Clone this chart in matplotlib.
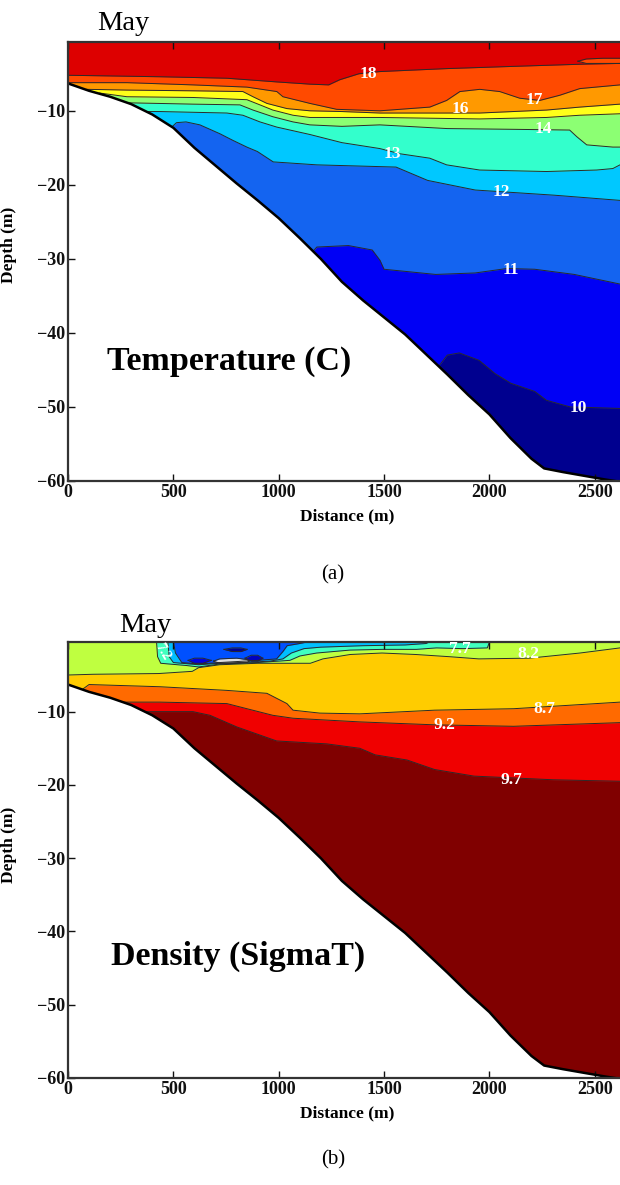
import numpy as np
import matplotlib.pyplot as plt

plt.rcParams['font.family'] = ['Liberation Serif', 'DejaVu Serif']

# bottom profile (distance m, depth m)
bot_d = [0, 100, 200, 300, 400, 500, 600, 700, 800, 900, 1000, 1100, 1200, 1300, 1400,
         1500, 1600, 1700, 1800, 1900, 2000, 2100, 2200, 2260, 2350, 2450, 2550, 2620]
bot_z = [-6.3, -7.3, -8.1, -9.1, -10.5, -12.3, -15.0, -17.4, -19.8, -22.1, -24.5, -27.2, -30.0, -33.1, -35.6,
         -37.9, -40.2, -42.9, -45.6, -48.4, -51.0, -54.2, -57.0, -58.3, -58.8, -59.3, -59.8, -60.1]

# temperature isotherms
t10_d = [1760, 1800, 1857, 1951, 2027, 2102, 2215, 2271, 2384, 2620]
t10_z = [-44.5, -43.0, -42.7, -43.7, -45.5, -46.8, -47.9, -49.1, -50.0, -50.2]
t11_d = [1162, 1181, 1331, 1444, 1481, 1500, 1745, 1933, 2083, 2215, 2403, 2620]
t11_z = [-29.0, -28.4, -28.2, -28.8, -30.2, -31.4, -32.1, -31.9, -31.3, -31.4, -32.1, -33.4]
t12_d = [492, 515, 560, 626, 721, 783, 849, 899, 974, 1181, 1557, 1707, 1933, 2309, 2620]
t12_z = [-12.2, -11.6, -11.5, -11.9, -13.1, -14.0, -14.9, -15.5, -16.9, -17.3, -17.6, -19.4, -20.7, -21.4, -22.1]
t13_d = [374, 436, 754, 830, 911, 991, 1148, 1300, 1480, 1575, 1717, 1797, 1954, 2271, 2509, 2586, 2620]
t13_z = [-10.1, -10.1, -10.3, -10.6, -11.5, -12.2, -13.2, -14.3, -15.1, -15.8, -16.4, -17.3, -18.0, -18.2, -18.0, -17.8, -17.3]
t14_d = [250, 593, 816, 878, 972, 1068, 1148, 1300, 1480, 1800, 2112, 2381, 2415, 2462, 2586, 2620]
t14_z = [-8.9, -9.1, -9.2, -9.9, -10.8, -11.5, -11.9, -12.1, -11.9, -12.4, -12.5, -12.6, -13.5, -14.6, -14.9, -14.9]
t15_d = [150, 280, 593, 849, 911, 972, 1068, 1148, 1480, 1954, 2271, 2429, 2620]
t15_z = [-7.6, -8.1, -8.2, -8.5, -9.2, -9.9, -10.6, -10.9, -10.9, -11.1, -10.9, -10.6, -10.4]
t16_d = [89, 280, 593, 830, 878, 944, 1039, 1148, 1300, 1480, 1954, 2271, 2429, 2620]
t16_z = [-7.1, -7.2, -7.3, -7.4, -8.1, -9.0, -9.7, -10.0, -10.1, -10.3, -10.3, -9.9, -9.5, -9.1]
t17_d = [0, 280, 593, 849, 991, 1020, 1148, 1275, 1480, 1717, 1797, 1860, 1954, 2049, 2144, 2239, 2334, 2429, 2620]
t17_z = [-6.2, -6.2, -6.5, -6.8, -7.4, -8.1, -9.0, -9.8, -10.0, -9.5, -8.6, -7.4, -7.1, -7.4, -8.3, -8.6, -7.9, -7.0, -6.5]
t18_d = [0, 436, 754, 991, 1148, 1237, 1290, 1380, 1480, 1797, 2112, 2443, 2620]
t18_z = [-5.2, -5.4, -5.6, -6.1, -6.4, -6.5, -5.8, -5.0, -4.7, -4.3, -4.0, -3.7, -3.6]
# small tongue near the surface on the right
t18b_d = [2420, 2460, 2540, 2620]
t18b_up = [-3.3, -3.0, -2.9, -2.9]
t18b_lo = [-3.3, -3.6, -3.6, -3.6]

temp_levels = ['10', '11', '12', '13', '14', '15', '16', '17', '18']
temp_colors = ['#00008f', '#0000f5', '#1464f0', '#00c8ff', '#33ffcc', '#8cff73',
               '#ffff1a', '#ff9900', '#ff4a00', '#dd0000']
temp_lab_d = [2421, 2102, 2055, 1540, 2255, None, 1860, 2211, 1425]
temp_lab_z = [-50.2, -31.5, -20.9, -15.8, -12.4, None, -9.7, -8.6, -5.0]

# density (sigma-t) isopycnals
s97_d = [356, 593, 674, 802, 911, 990, 1228, 1385, 1458, 1609, 1740, 1927, 2303, 2620]
s97_z = [-10.0, -10.0, -10.5, -12.1, -13.2, -14.0, -14.4, -15.0, -15.9, -16.6, -17.9, -18.8, -19.3, -19.5]
s92_d = [262, 436, 593, 754, 849, 972, 1068, 1385, 1740, 2115, 2620]
s92_z = [-8.7, -8.7, -8.8, -8.9, -9.6, -10.5, -10.9, -11.4, -11.8, -12.0, -11.5]
s87_d = [71, 100, 436, 754, 944, 1039, 1068, 1195, 1385, 1740, 2115, 2396, 2620]
s87_z = [-6.9, -6.3, -6.6, -7.1, -7.5, -8.9, -9.8, -10.2, -10.3, -9.8, -9.6, -9.1, -8.7]
s82_d = [0, 120, 430, 590, 620, 720, 900, 1150, 1210, 1340, 1490, 1650, 1810, 1950, 2190, 2430, 2620]
s82_z = [-5.0, -4.9, -4.8, -4.5, -4.0, -3.6, -3.4, -3.4, -2.8, -2.2, -2.0, -2.2, -2.5, -2.8, -2.7, -2.0, -1.3]
s77_d = [420, 425, 440, 560, 620, 720, 900, 1053, 1101, 1180, 1338, 1494, 1654, 1749, 1875, 1990, 2002]
s77_z = [-0.4, -2.5, -3.4, -3.7, -3.9, -3.5, -3.3, -3.0, -2.4, -2.0, -1.6, -1.5, -1.5, -1.3, -1.4, -1.3, -0.4]
s72_d = [474, 480, 500, 620, 720, 900, 960, 1020, 1060, 1120, 1200, 1400, 1600, 1700, 1720]
s72_z = [-0.4, -2.5, -3.3, -3.6, -3.4, -3.2, -3.1, -2.8, -2.0, -1.4, -1.2, -1.0, -0.9, -0.7, -0.4]
s67_d = [500, 510, 540, 620, 720, 900, 990, 1020, 1040, 1100, 1150]
s67_z = [-0.4, -2.0, -3.3, -3.5, -3.3, -3.0, -2.8, -1.8, -1.0, -0.7, -0.4]
# closed low-density patches under the surface
p1_d = [570, 600, 640, 680]
p1_up = [-3.0, -2.7, -2.7, -3.0]
p1_lo = [-3.0, -3.4, -3.4, -3.0]
p2_d = [840, 870, 900, 925]
p2_up = [-2.7, -2.3, -2.3, -2.7]
p2_lo = [-2.7, -3.1, -3.1, -2.7]
p3_d = [740, 780, 820, 850]
p3_up = [-1.5, -1.3, -1.3, -1.5]
p3_lo = [-1.5, -1.8, -1.8, -1.5]
p4_d = [690, 720, 800, 850, 860]
p4_up = [-3.1, -2.8, -2.7, -2.9, -3.1]
p4_lo = [-3.1, -3.4, -3.4, -3.3, -3.1]

dens_colors = ['#800000', '#f00000', '#ff6a00', '#ffcc00', '#bfff40', '#40ffbf', '#00bfff', '#0050ff']
dens_labels = ['7.2', '7.7', '8.2', '8.7', '9.2', '9.7']
dens_lab_d = [450, 1860, 2185, 2263, 1787, 2105]
dens_lab_z = [-1.8, -1.5, -2.2, -9.6, -11.8, -19.3]

bd = np.array(bot_d, float)
bz = np.array(bot_z, float)
LC = '#2a2a2a'


def fill_above(ax, d, z, color, from_bottom=True):
    d = np.asarray(d, float)
    z = np.asarray(z, float)
    if from_bottom:
        m = bd < d[0]
        d = np.concatenate([bd[m], d])
        z = np.concatenate([bz[m], z])
    ax.fill_between(d, z, 0, color=color, lw=0, zorder=1)


def style(ax, ytop):
    ax.set_xlim(0, 2620)
    ax.set_ylim(-60, ytop)
    ax.set_xticks([0, 500, 1000, 1500, 2000, 2500])
    ax.set_yticks([-60, -50, -40, -30, -20, -10])
    ax.tick_params(direction='in', top=True, right=False, length=5, width=1,
                   labelsize=13, pad=2, colors='#111111')
    for lab in ax.get_xticklabels() + ax.get_yticklabels():
        lab.set_fontweight('bold')
    for s in ['left', 'bottom', 'top']:
        ax.spines[s].set_linewidth(1.6)
        ax.spines[s].set_color('#333333')
        ax.spines[s].set_zorder(4)
    ax.spines['right'].set_visible(False)
    ax.set_xlabel('Distance (m)', fontsize=12.5, fontweight='bold')
    ax.set_ylabel('Depth (m)', fontsize=12.5, fontweight='bold')
    ax.xaxis.set_label_coords(0.505, -0.062)


def finish_bottom(ax):
    ax.fill_between(bd, bz, -62, color='white', lw=0, zorder=1.5)
    ax.plot(bd, bz, color='black', lw=1.8, zorder=2.2)


fig = plt.figure(figsize=(6.2, 11.85), dpi=100)

# ---- (a) temperature
ax1 = fig.add_axes([0.1097, 0.5941, 0.8903, 0.3705])
ax1.fill_between(bd, bz, 0, color=temp_colors[0], lw=0, zorder=1)
iso_t = [(t10_d, t10_z), (t11_d, t11_z), (t12_d, t12_z), (t13_d, t13_z), (t14_d, t14_z),
         (t15_d, t15_z), (t16_d, t16_z), (t17_d, t17_z), (t18_d, t18_z)]
for i, (d, z) in enumerate(iso_t):
    fill_above(ax1, d, z, temp_colors[i + 1])
ax1.fill_between(t18b_d, t18b_lo, t18b_up, color=temp_colors[8], lw=0, zorder=1)
finish_bottom(ax1)
for d, z in iso_t:
    ax1.plot(d, z, color=LC, lw=0.7, zorder=1.2)
ax1.plot(t18b_d, t18b_up, color=LC, lw=0.7, zorder=1.2)
ax1.plot(t18b_d, t18b_lo, color=LC, lw=0.7, zorder=1.2)
for s, d, z in zip(temp_levels, temp_lab_d, temp_lab_z):
    if d is not None:
        ax1.text(d, z, s, color='white', fontsize=12.5, fontweight='bold',
                 ha='center', va='center', zorder=5)
style(ax1, -0.7)
ax1.yaxis.set_label_coords(-0.092, 0.537)
ax1.text(0.071, 0.253, 'Temperature (C)', transform=ax1.transAxes, fontsize=24.5,
         fontweight='bold', va='baseline', zorder=6)

# ---- (b) density
ax2 = fig.add_axes([0.1097, 0.0903, 0.8903, 0.3679])
ax2.fill_between(bd, bz, 0, color=dens_colors[0], lw=0, zorder=1)
iso_s = [(s97_d, s97_z), (s92_d, s92_z), (s87_d, s87_z), (s82_d, s82_z)]
for i, (d, z) in enumerate(iso_s):
    fill_above(ax2, d, z, dens_colors[i + 1])
iso_top = [(s77_d, s77_z), (s72_d, s72_z), (s67_d, s67_z)]
for i, (d, z) in enumerate(iso_top):
    fill_above(ax2, d, z, dens_colors[i + 5], from_bottom=False)
ax2.fill_between(p1_d, p1_lo, p1_up, color='#0000e0', lw=0, zorder=1)
ax2.fill_between(p2_d, p2_lo, p2_up, color='#0000c0', lw=0, zorder=1)
ax2.fill_between(p3_d, p3_lo, p3_up, color='#000090', lw=0, zorder=1)
ax2.fill_between(p4_d, p4_lo, p4_up, color='#dcdcdc', lw=0, zorder=1)
finish_bottom(ax2)
for d, z in iso_s + iso_top:
    ax2.plot(d, z, color=LC, lw=0.7, zorder=1.2)
for d, up, lo in [(p1_d, p1_up, p1_lo), (p2_d, p2_up, p2_lo), (p3_d, p3_up, p3_lo), (p4_d, p4_up, p4_lo)]:
    ax2.plot(d, up, color=LC, lw=0.7, zorder=1.2)
    ax2.plot(d, lo, color=LC, lw=0.7, zorder=1.2)
for i, (s, d, z) in enumerate(zip(dens_labels, dens_lab_d, dens_lab_z)):
    ax2.text(d, z, s, color='white', fontsize=10 if i == 0 else 12.5, fontweight='bold',
             ha='center', va='center', zorder=5, rotation=-60 if i == 0 else 0)
style(ax2, -0.5)
ax2.yaxis.set_label_coords(-0.092, 0.534)
ax2.text(0.078, 0.259, 'Density (SigmaT)', transform=ax2.transAxes, fontsize=24.5,
         fontweight='bold', va='baseline', zorder=6)

fig.text(0.156, 0.9747, 'May', fontsize=20.5, va='baseline')
fig.text(0.192, 0.4667, 'May', fontsize=20.5, va='baseline')
fig.text(0.537, 0.515, '(a)', fontsize=15, ha='center', va='center')
fig.text(0.537, 0.021, '(b)', fontsize=15, ha='center', va='center')

fig.savefig('out.png', dpi=100)
